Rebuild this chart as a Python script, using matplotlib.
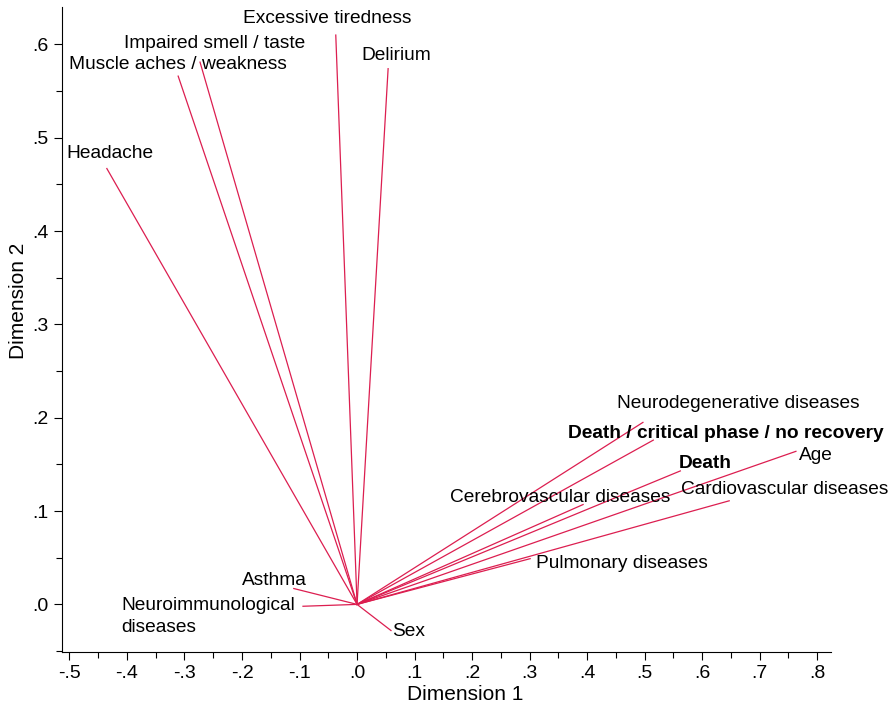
import numpy as np
import matplotlib
matplotlib.use('Agg')
import matplotlib.pyplot as plt
from matplotlib.ticker import MultipleLocator, FuncFormatter

plt.rcParams['font.family'] = ['Liberation Sans', 'DejaVu Sans']

# loadings (dimension 1, dimension 2)
variables = ['Excessive tiredness', 'Impaired smell / taste', 'Muscle aches / weakness',
             'Delirium', 'Headache', 'Neurodegenerative diseases',
             'Death / critical phase / no recovery', 'Death', 'Age',
             'Cardiovascular diseases', 'Cerebrovascular diseases', 'Pulmonary diseases',
             'Asthma', 'Neuroimmunological\ndiseases', 'Sex']
dim1 = [-0.037, -0.273, -0.311, 0.054, -0.435, 0.497, 0.515, 0.562, 0.763,
        0.647, 0.393, 0.301, -0.110, -0.094, 0.059]
dim2 = [0.610, 0.581, 0.566, 0.574, 0.467, 0.195, 0.176, 0.143, 0.164,
        0.111, 0.107, 0.049, 0.017, -0.002, -0.028]
bold = ['Death / critical phase / no recovery', 'Death']

# label anchor points (left edge, vertical centre)
label_pos = [(-0.052, 0.628), (-0.405, 0.601), (-0.501, 0.578), (0.007, 0.588),
             (-0.506, 0.483), (0.452, 0.215), (0.367, 0.183), (0.560, 0.151),
             (0.769, 0.160), (0.563, 0.123), (0.162, 0.115), (0.311, 0.044),
             (-0.200, 0.026), (-0.410, -0.013), (0.061, -0.029)]

line_color = '#DC1E50'

fig = plt.figure(figsize=(8.93, 7.06), dpi=100)
ax = fig.add_axes([0.0694, 0.0765, 0.8612, 0.9135])

for name, x, y, (lx, ly) in zip(variables, dim1, dim2, label_pos):
    ax.plot([0, x], [0, y], color=line_color, linewidth=0.9)
    ha = 'center' if name == 'Excessive tiredness' else 'left'
    ax.text(lx, ly, name, ha=ha, va='center', fontsize=13.8,
            fontweight='bold' if name in bold else 'normal', linespacing=1.45)

ax.set_xlim(-0.513, 0.824)
ax.set_ylim(-0.051, 0.640)

ax.xaxis.set_major_locator(MultipleLocator(0.1))
ax.xaxis.set_minor_locator(MultipleLocator(0.05))
ax.yaxis.set_major_locator(MultipleLocator(0.1))
ax.yaxis.set_minor_locator(MultipleLocator(0.05))

def short_fmt(v, pos):
    s = f"{v:.1f}"
    if s == "-0.0":
        s = "0.0"
    return s.replace("0.", ".", 1)

ax.xaxis.set_major_formatter(FuncFormatter(short_fmt))
ax.yaxis.set_major_formatter(FuncFormatter(short_fmt))
ax.tick_params(which='major', direction='out', length=6, width=0.8, labelsize=14)
ax.tick_params(which='minor', direction='out', length=4, width=0.8)

for side in ['top', 'right']:
    ax.spines[side].set_visible(False)

ax.set_xlabel('Dimension 1', fontsize=15)
ax.set_ylabel('Dimension 2', fontsize=15)
ax.xaxis.set_label_coords(0.524, -0.051)
ax.yaxis.set_label_coords(-0.044, 0.544)

fig.savefig('out.png', dpi=100)
